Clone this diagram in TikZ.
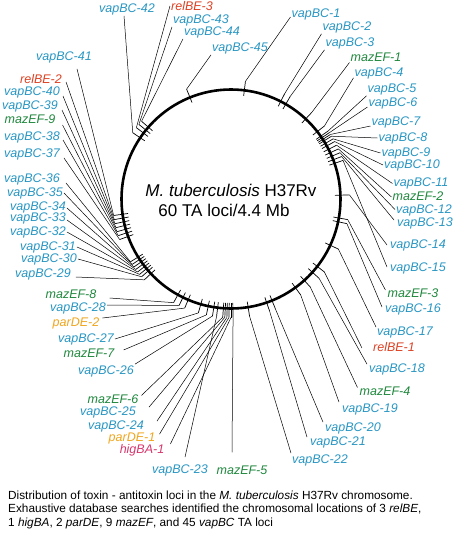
\documentclass[tikz,border=0pt]{standalone}
\usepackage{fontspec}
\setmainfont{Liberation Sans}
\usetikzlibrary{calc}
\definecolor{vapc}{RGB}{40,150,195}
\definecolor{mazc}{RGB}{30,135,60}
\definecolor{relc}{RGB}{220,65,35}
\definecolor{parc}{RGB}{240,165,30}
\definecolor{higc}{RGB}{215,55,110}
\begin{document}
\begin{tikzpicture}[x=1pt,y=-1pt,
  lab/.style={font=\fontsize{12.5}{14}\selectfont\itshape, inner sep=0pt},
  vap/.style={lab,text=vapc},
  maz/.style={lab,text=mazc},
  rel/.style={lab,text=relc},
  par/.style={lab,text=parc},
  hig/.style={lab,text=higc},
  lead/.style={line width=0.5pt},
  tickmark/.style={line width=0.7pt},
  ring/.style={line width=2.6pt},
  titletext/.style={font=\fontsize{17}{19}\selectfont, inner sep=0pt},
  captext/.style={font=\fontsize{11.8}{14}\selectfont, inner sep=0pt, anchor=west}]
\useasboundingbox (0,0) rectangle (455,539);
\coordinate (C) at (231,199);
\draw[ring] (C) circle[radius=109.5pt];
\foreach \nm/\tx/\st/\px/\py/\an/\dx/\dy/\ang in {
v42/vapBC-42/vap/127/9/south/-3/1/146,
r3/relBE-3/rel/192/6/west/-1/0/143,
v43/vapBC-43/vap/201/20/south west/-1/1/141,
v44/vapBC-44/vap/212/32/south west/-1/1/139,
v45/vapBC-45/vap/240/48/south west/-1/1/112,
v41/vapBC-41/vap/64/57/south/13/6/188,
r2/relBE-2/rel/41/79/east/4/3/190,
v40/vapBC-40/vap/32/92/east/3/4/192,
v39/vapBC-39/vap/30/106/east/4/4/194,
m9/mazEF-9/maz/30/119/east/7/6/196,
v38/vapBC-38/vap/32/137/east/3/3/198,
v37/vapBC-37/vap/32/154/east/4/4/200,
v36/vapBC-36/vap/32/179/east/6/4/212,
v35/vapBC-35/vap/35/193/east/1/0/213.5,
v34/vapBC-34/vap/38/207/east/1/1/215,
v33/vapBC-33/vap/38/218/east/1/2/216.5,
v32/vapBC-32/vap/38/232/east/1/0/218,
v31/vapBC-31/vap/48/247/east/1/0/219.5,
v30/vapBC-30/vap/49/259/east/1/0/221,
v29/vapBC-29/vap/43/274/east/5/3/223,
m8/mazEF-8/maz/71/294/east/13/4/241,
v28/vapBC-28/vap/78/308/east/1/-3/244,
p2/parDE-2/par/76/323/east/3/-5/247,
v27/vapBC-27/vap/86/339/east/1/0/254,
m7/mazEF-7/maz/89/353/east/9/-3/258,
v26/vapBC-26/vap/106/371/north east/1/-1/261,
m6/mazEF-6/maz/113/399/north east/3/1/266,
v25/vapBC-25/vap/108/412/north east/13/1/267,
v24/vapBC-24/vap/116/426/north east/13/1/268,
p1/parDE-1/par/132/438/north east/4/2/269,
h1/higBA-1/hig/142/450/north east/6/0/270,
v23/vapBC-23/vap/180/470/north/5/-7/263,
m5/mazEF-5/maz/242/470/north/-10/-13/271,
v22/vapBC-22/vap/320/460/north west/-1/-1/279,
v21/vapBC-21/vap/338/442/north west/-3/1/289,
v20/vapBC-20/vap/353/428/north west/-2/0/292,
v19/vapBC-19/vap/370/409/north west/-3/-1/306,
m4/mazEF-4/maz/385/391/north west/-2/1/312,
v18/vapBC-18/vap/397/369/north west/-2/1/318,
r1/relBE-1/rel/394/347/west/-11/1/322,
v17/vapBC-17/vap/405/332/west/-1/-5/335,
v16/vapBC-16/vap/413/309/west/-3/-2/348,
m3/mazEF-3/maz/413/293/west/-2/-3/350,
v15/vapBC-15/vap/418/268/west/-3/-1/19,
v14/vapBC-14/vap/418/245/west/-3/0/2,
v13/vapBC-13/vap/425/223/west/-3/-3/21,
v12/vapBC-12/vap/424/210.5/west/-1/-1/23,
m2/mazEF-2/maz/418/196/west/-1/1/25,
v11/vapBC-11/vap/421/183.5/west/-1/0/27,
v10/vapBC-10/vap/412/165/west/-1/0/29,
v9/vapBC-9/vap/406/153/west/-1/0/30.5,
v8/vapBC-8/vap/403/138/west/-1/0/32,
v7/vapBC-7/vap/396/122/west/-1/4/33,
v6/vapBC-6/vap/393/103/west/-1/4/34,
v5/vapBC-5/vap/392/89/south west/-1/1/35,
v4/vapBC-4/vap/379/73/south west/-1/-1/38,
m1/mazEF-1/maz/376/57/south west/-1/1/47,
v3/vapBC-3/vap/350/43/south west/-1/1/60,
v2/vapBC-2/vap/347/27/south west/-1/1/63,
v1/vapBC-1/vap/316/14/west/-1/3/83}{
  \node[\st] (L\nm) at (\px,\py) {\tx};
  \coordinate (K\nm) at ($(C)+(\ang:118.5pt)$);
  \coordinate (T\nm) at ($(C)+(\ang:104pt)$);
  \draw[lead] ([shift={(\dx,\dy)}]L\nm.\an) -- (K\nm);
  \draw[tickmark] (K\nm) -- (T\nm);
}
\node[titletext] (title1) at (231,190) {\textit{M. tuberculosis} H37Rv};
\node[titletext] (title2) at (224,210) {60 TA loci/4.4 Mb};
\node[captext] (cap1) at (8,495) {Distribution of toxin - antitoxin loci in the \textit{M. tuberculosis} H37Rv chromosome.};
\node[captext] (cap2) at (8,509) {Exhaustive database searches identified the chromosomal locations of 3 \textit{relBE},};
\node[captext] (cap3) at (8,523) {1 \textit{higBA}, 2 \textit{parDE}, 9 \textit{mazEF}, and 45 \textit{vapBC} TA loci};
\end{tikzpicture}
\end{document}
